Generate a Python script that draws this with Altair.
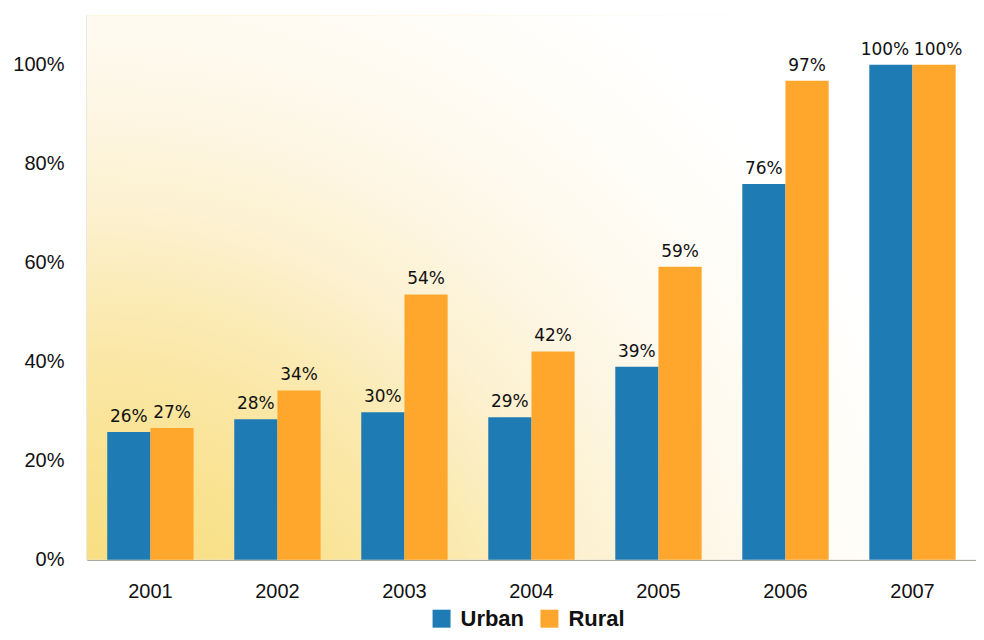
import altair as alt
import pandas as pd

years = ["2001", "2002", "2003", "2004", "2005", "2006", "2007"]
urban = [0.258, 0.284, 0.298, 0.288, 0.39, 0.759, 1.0]
rural = [0.266, 0.342, 0.536, 0.421, 0.592, 0.968, 1.0]
series = ["Urban", "Rural"]
colors = ["#1f7bb4", "#ffa72d"]

rows = []
for i, y in enumerate(years):
    rows.append({"year": y, "area": "Urban", "value": urban[i]})
    rows.append({"year": y, "area": "Rural", "value": rural[i]})
df = pd.DataFrame(rows)

W, H = 890, 545

bg = alt.Chart(alt.Data(values=[{}])).mark_rect(
    color=alt.RadialGradient(
        gradient="radial",
        stops=[
            alt.GradientStop(color="#f8da6a", offset=0),
            alt.GradientStop(color="#f9e290", offset=0.3),
            alt.GradientStop(color="#fbeab2", offset=0.48),
            alt.GradientStop(color="#fcf0cc", offset=0.57),
            alt.GradientStop(color="#fdf4dc", offset=0.66),
            alt.GradientStop(color="#fef8ea", offset=0.74),
            alt.GradientStop(color="#fffcf5", offset=0.86),
            alt.GradientStop(color="#ffffff", offset=1),
        ],
        x1=0, y1=1, r1=0, x2=0, y2=1, r2=1,
    )
).encode(x=alt.value(0), x2=alt.value("width"), y=alt.value(0), y2=alt.value("height"))

xenc = alt.X("year:N", sort=years, title=None,
             scale=alt.Scale(paddingInner=0.32, paddingOuter=0.16),
             axis=alt.Axis(labelAngle=0, labelFontSize=20, labelFont="Liberation Sans",
                           labelColor="#111111", ticks=False, tickSize=0, labelPadding=22,
                           domainColor="#aaa69a", domainWidth=1.5))
yenc = alt.Y("value:Q", title=None,
             scale=alt.Scale(domain=[0, 1.1], nice=False),
             axis=alt.Axis(values=[0, 0.2, 0.4, 0.6, 0.8, 1.0], format=".0%", grid=False,
                           labelFontSize=20, labelFont="Liberation Sans", labelColor="#111111",
                           ticks=False, tickSize=0, labelPadding=23,
                           domainColor="#b8b8b8", domainWidth=1.5))
off = alt.XOffset("area:N", sort=series, scale=alt.Scale(paddingInner=0, paddingOuter=0))

bars = alt.Chart(df).mark_bar().encode(
    x=xenc, y=yenc, xOffset=off,
    color=alt.Color("area:N", sort=series,
                    scale=alt.Scale(domain=series, range=colors),
                    legend=alt.Legend(title=None, orient="none", legendX=344, legendY=593,
                                      direction="horizontal", padding=0,
                                      symbolType="square", symbolSize=324, symbolStrokeWidth=0,
                                      labelFontSize=22, labelFontWeight="bold",
                                      labelFont="Liberation Sans", labelColor="#111111",
                                      labelOffset=8, columnPadding=14)),
)

def label_layer(data_filter, dx):
    return alt.Chart(df).transform_filter(data_filter).mark_text(
        baseline="bottom", dy=-6, dx=dx, fontSize=17, font="DejaVu Sans", color="#111111"
    ).encode(
        x=alt.X("year:N", sort=years), y="value:Q", xOffset=off,
        text=alt.Text("value:Q", format=".0%"),
    )

labels = label_layer("datum.year != '2007'", 0)
lab_u7 = label_layer("datum.year == '2007' && datum.area == 'Urban'", -6)
lab_r7 = label_layer("datum.year == '2007' && datum.area == 'Rural'", 4)

chart = alt.layer(bg, bars, labels, lab_u7, lab_r7).properties(
    width=W, height=H,
    padding={"left": 4, "top": 7, "right": 0, "bottom": 0},
).configure_view(stroke=None)

chart.save("out.html", embed_options={"renderer": "svg", "actions": False})
